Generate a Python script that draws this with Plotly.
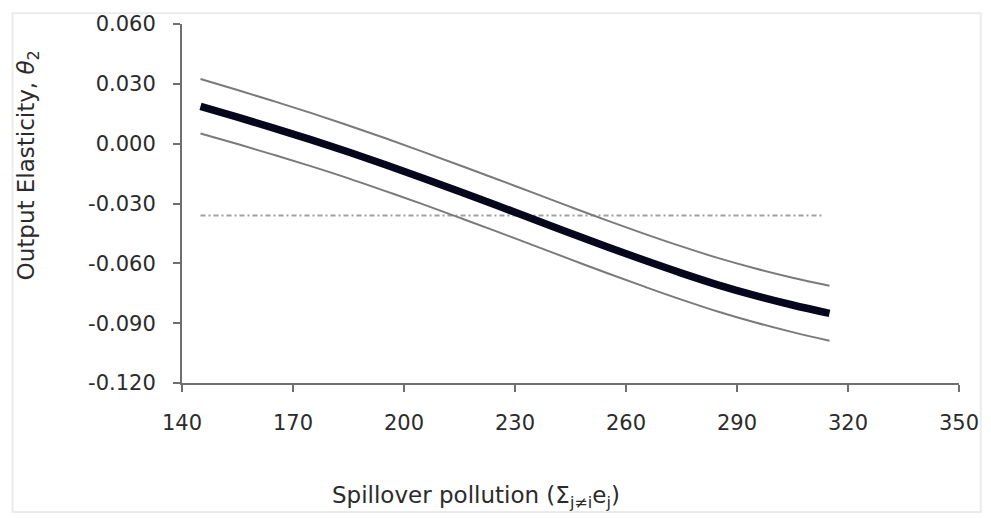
import plotly.graph_objects as go

# Data
x_vals = [145, 155, 165, 175, 185, 195, 205, 215, 225, 235, 245, 255, 265, 275, 285, 295, 305, 315]
elasticity = [0.0187, 0.0133, 0.0077, 0.0019, -0.0042, -0.0106, -0.0172, -0.0240, -0.0309,
              -0.0379, -0.0449, -0.0518, -0.0585, -0.0649, -0.0709, -0.0762, -0.0809, -0.0851]
upper_ci = [0.0324, 0.0269, 0.0212, 0.0153, 0.0091, 0.0027, -0.0040, -0.0108, -0.0177,
            -0.0247, -0.0317, -0.0386, -0.0452, -0.0515, -0.0574, -0.0626, -0.0672, -0.0712]
lower_ci = [0.0051, -0.0002, -0.0057, -0.0114, -0.0174, -0.0238, -0.0303, -0.0371, -0.0440,
            -0.0510, -0.0580, -0.0650, -0.0717, -0.0782, -0.0843, -0.0897, -0.0945, -0.0988]
ref_x = [145, 313.5]
ref_y = [-0.036, -0.036]

x_ticks = [140, 170, 200, 230, 260, 290, 320, 350]
y_ticks = [0.06, 0.03, 0.0, -0.03, -0.06, -0.09, -0.12]

fig = go.Figure()
fig.add_trace(go.Scatter(x=ref_x, y=ref_y, mode="lines",
                         line=dict(color="#a0a0a0", width=2, dash="5px,3px,2px,3px"),
                         showlegend=False, hoverinfo="skip"))
fig.add_trace(go.Scatter(x=x_vals, y=upper_ci, mode="lines", line=dict(color="#7a7a7a", width=2, shape="spline"),
                         showlegend=False))
fig.add_trace(go.Scatter(x=x_vals, y=lower_ci, mode="lines", line=dict(color="#7a7a7a", width=2, shape="spline"),
                         showlegend=False))
fig.add_trace(go.Scatter(x=x_vals, y=elasticity, mode="lines", line=dict(color="#06061c", width=7.5, shape="spline"),
                         showlegend=False))

axis_font = dict(family="DejaVu Sans", size=21, color="#2b2b2b")
fig.update_xaxes(range=[140, 350], tickvals=x_ticks, ticktext=[str(v) for v in x_ticks],
                 showgrid=False, zeroline=False, showline=True, linecolor="#6f6f6f", linewidth=2,
                 ticks="outside", ticklen=7, tickwidth=1.5, tickcolor="#6f6f6f",
                 tickfont=axis_font, ticklabelstandoff=13)
fig.update_yaxes(range=[-0.12, 0.06], tickvals=y_ticks, ticktext=[f"{v:.3f}" for v in y_ticks],
                 showgrid=False, zeroline=False, showline=True, linecolor="#6f6f6f", linewidth=2,
                 ticks="outside", ticklen=7, tickwidth=1.5, tickcolor="#6f6f6f",
                 tickfont=axis_font, ticklabelstandoff=13)

title_font = dict(family="DejaVu Sans", size=23, color="#2b2b2b")
fig.add_annotation(text="Output Elasticity, <i>θ</i><sub>2</sub>", xref="paper", yref="paper",
                   x=-0.1987, y=0.605, textangle=-90, showarrow=False, font=title_font,
                   xanchor="center", yanchor="middle")
fig.add_annotation(text="Spillover pollution (Σ<sub>j≠i</sub>e<sub>j</sub>)", xref="paper", yref="paper",
                   x=0.378, y=-0.318, showarrow=False, font=title_font,
                   xanchor="center", yanchor="middle")
fig.add_shape(type="rect", xref="paper", yref="paper", x0=-0.218, x1=1.028, y0=-0.359, y1=1.030,
              line=dict(color="#ebebeb", width=2), layer="below")

fig.update_layout(width=991, height=518, margin=dict(l=182, r=29, t=18, b=135),
                  paper_bgcolor="white", plot_bgcolor="white")
fig.write_html("out.html")
